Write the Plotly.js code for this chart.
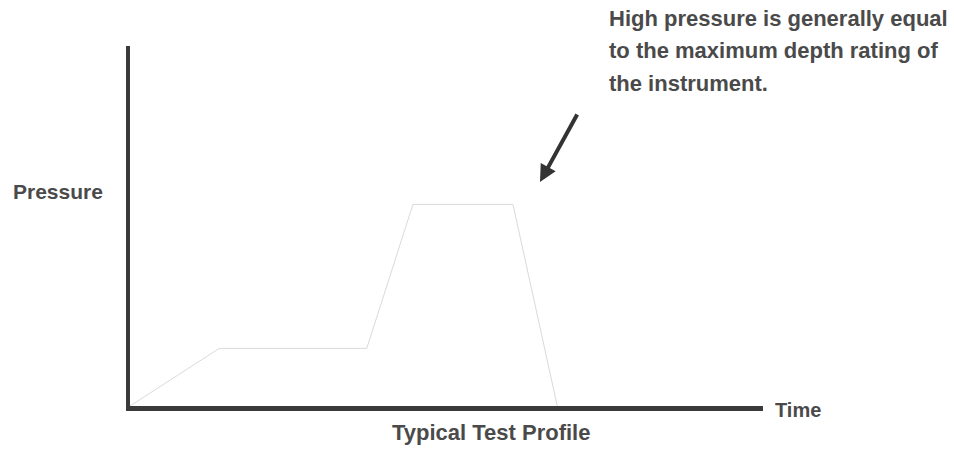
<!DOCTYPE html>
<html>
<head>
<meta charset="utf-8">
<script src="https://cdn.plot.ly/plotly-3.0.1.min.js"></script>
<style>html,body{margin:0;padding:0;background:#fff;}#chart{width:954px;height:450px;}</style>
</head>
<body>
<div id="chart"></div>
<script>
// Data
const times = [0, 14.1, 37.4, 44.7, 60.5, 67.5];
const pressure = [0, 16, 16, 56, 56, 0];
const yLabel = "Pressure";
const xLabel = "Time";
const chartTitle = "Typical Test Profile";
const noteLines = ["High pressure is generally equal", "to the maximum depth rating of", "the instrument."];

// Layout geometry (pixels)
const W = 954, H = 450;
const M = {l: 130, r: 191, t: 46, b: 44};
const PW = W - M.l - M.r, PH = H - M.t - M.b;
const px = x => (x - M.l) / PW;
const py = y => (H - M.b - y) / PH;

const FONT = "Liberation Sans, Arial, Helvetica, sans-serif";
const TXT = "#4a4a4a";

const annotations = [];
annotations.push({xref:'paper', yref:'paper', x: px(11), y: py(191), xanchor:'left', yanchor:'middle',
  text: yLabel, showarrow:false, font:{family:FONT, size:21, color:TXT, weight:700}});
annotations.push({xref:'paper', yref:'paper', x: px(773), y: py(410), xanchor:'left', yanchor:'middle',
  text: xLabel, showarrow:false, font:{family:FONT, size:20, color:TXT, weight:700}});
annotations.push({xref:'paper', yref:'paper', x: px(491), y: py(432), xanchor:'center', yanchor:'middle',
  text: chartTitle, showarrow:false, font:{family:FONT, size:22, color:TXT, weight:700}});
const noteY = [18, 51, 84];
noteLines.forEach((t, i) => annotations.push({xref:'paper', yref:'paper', x: px(607), y: py(noteY[i]),
  xanchor:'left', yanchor:'middle', text: t, showarrow:false,
  font:{family:FONT, size:22, color:TXT, weight:700}}));
// pointer arrow
annotations.push({xref:'paper', yref:'paper', x: px(540), y: py(182), text:'', showarrow:true,
  axref:'pixel', ayref:'pixel', ax: 38, ay: -69, arrowhead:2, arrowsize:0.85, arrowwidth:4,
  arrowcolor:'#333333', standoff:0, startstandoff:0});

const trace = {x: times, y: pressure, type:'scatter', mode:'lines',
  line:{color:'#dadada', width:1}, hoverinfo:'skip', showlegend:false};

const layout = {
  width: W, height: H, margin: M,
  paper_bgcolor:'#ffffff', plot_bgcolor:'#ffffff',
  showlegend:false,
  xaxis:{range:[0,100], showline:true, linewidth:5, linecolor:'#3a3a3a', showgrid:false,
    zeroline:false, showticklabels:false, ticks:'', fixedrange:true},
  yaxis:{range:[0,100], showline:true, linewidth:4, linecolor:'#3a3a3a', showgrid:false,
    zeroline:false, showticklabels:false, ticks:'', fixedrange:true},
  annotations: annotations
};
Plotly.newPlot('chart', [trace], layout, {displayModeBar:false, staticPlot:true});
</script>
</body>
</html>
